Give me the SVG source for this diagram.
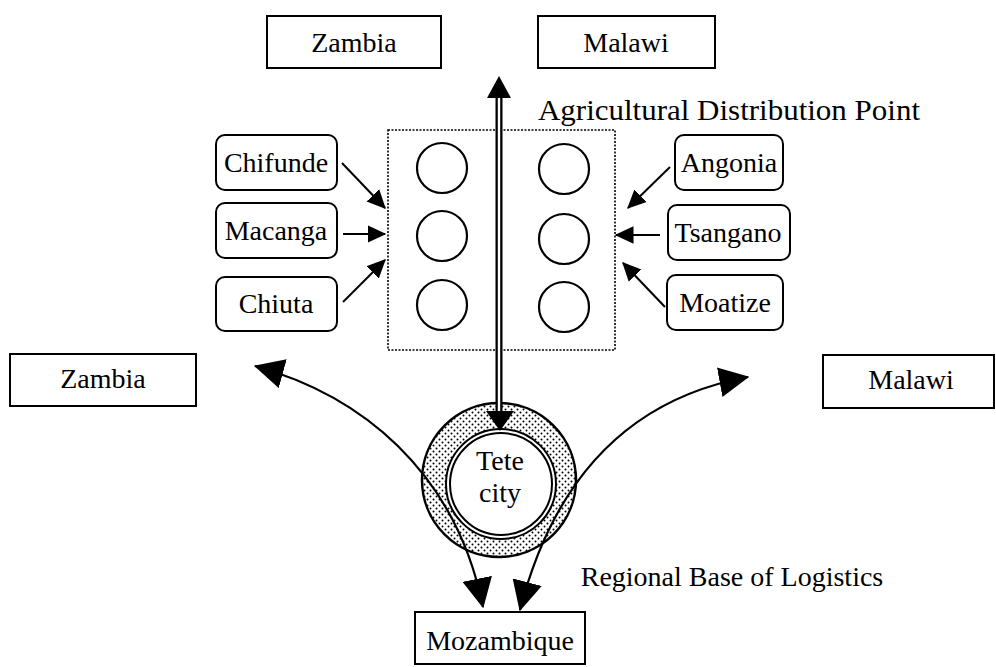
<svg xmlns="http://www.w3.org/2000/svg" width="996" height="667" viewBox="0 0 996 667">
<style>
text{font-family:"Liberation Serif","Times New Roman",serif;font-size:28px;fill:#000;text-anchor:middle}
.box{fill:#fff;stroke:#000;stroke-width:2}
.rbox{fill:#fff;stroke:#000;stroke-width:2}
.c{fill:#fff;stroke:#000;stroke-width:2.2}
.arr{fill:none;stroke:#000;stroke-width:2}
.curve{fill:none;stroke:#000;stroke-width:2.2}
</style>
<defs>
<marker id="sm" markerUnits="userSpaceOnUse" markerWidth="20" markerHeight="20" refX="14" refY="7" orient="auto" viewBox="0 0 16 14">
<path d="M0,0 L15,7 L0,14 z" fill="#000"/>
</marker>
<marker id="big" markerUnits="userSpaceOnUse" markerWidth="30" markerHeight="30" refX="23" refY="12" orient="auto-start-reverse" viewBox="0 0 24 24">
<path d="M0,0 L24,12 L0,24 z" fill="#000"/>
</marker>
<pattern id="dots" width="6" height="6" patternUnits="userSpaceOnUse">
<rect width="6" height="6" fill="#fff"/>
<circle cx="1.5" cy="1.5" r="1" fill="#000"/>
<circle cx="4.5" cy="4.5" r="1" fill="#000"/>
</pattern>
</defs>

<g id="zambia-top"><rect class="box" x="267" y="16" width="174" height="52"/><text x="354" y="52">Zambia</text></g>
<g id="malawi-top"><rect class="box" x="538" y="16" width="177" height="52"/><text x="626" y="52">Malawi</text></g>
<g id="zambia-left"><rect class="box" x="10" y="354" width="186" height="52"/><text x="103" y="388">Zambia</text></g>
<g id="malawi-right"><rect class="box" x="823" y="355" width="171" height="53"/><text x="911" y="389">Malawi</text></g>
<g id="mozambique"><rect class="box" x="415" y="612" width="170" height="52"/><text x="500" y="650">Mozambique</text></g>

<g id="adp">
<rect x="388" y="130" width="227" height="220" fill="none" stroke="#000" stroke-width="1.6" stroke-dasharray="2,1.5"/>
<circle class="c" cx="442" cy="168" r="25"/>
<circle class="c" cx="442" cy="236" r="25"/>
<circle class="c" cx="442" cy="305" r="25"/>
<circle class="c" cx="564" cy="169" r="25"/>
<circle class="c" cx="564" cy="239" r="25"/>
<circle class="c" cx="564" cy="307" r="25"/>
<text x="729" y="120" style="font-size:29px" textLength="382" lengthAdjust="spacingAndGlyphs">Agricultural Distribution Point</text>
</g>

<g id="chifunde"><rect class="rbox" x="216" y="135" width="121" height="55" rx="9"/><text x="276" y="172">Chifunde</text></g>
<g id="macanga"><rect class="rbox" x="216" y="203" width="121" height="55" rx="9"/><text x="276" y="240">Macanga</text></g>
<g id="chiuta"><rect class="rbox" x="216" y="277" width="121" height="54" rx="9"/><text x="276" y="313">Chiuta</text></g>
<g id="angonia"><rect class="rbox" x="675" y="135" width="108" height="55" rx="9"/><text x="729" y="172">Angonia</text></g>
<g id="tsangano"><rect class="rbox" x="668" y="205" width="122" height="55" rx="9"/><text x="728" y="242">Tsangano</text></g>
<g id="moatize"><rect class="rbox" x="667" y="275" width="116" height="55" rx="9"/><text x="725" y="312">Moatize</text></g>

<g id="tete">
<circle cx="499" cy="480" r="77" fill="url(#dots)" stroke="#000" stroke-width="2.5"/>
<circle cx="501" cy="484" r="55" fill="#fff" stroke="#000" stroke-width="2"/>
<circle cx="501" cy="484" r="51" fill="none" stroke="#000" stroke-width="2"/>
<text x="500" y="470">Tete</text>
<text x="500" y="502">city</text>
<text x="732" y="586">Regional Base of Logistics</text>
</g>

<g id="connectors">
<line x1="342" y1="163" x2="385" y2="208" class="arr" marker-end="url(#sm)"/>
<line x1="343" y1="234" x2="385" y2="234" class="arr" marker-end="url(#sm)"/>
<line x1="343" y1="302" x2="385" y2="260" class="arr" marker-end="url(#sm)"/>
<line x1="670" y1="167" x2="628" y2="208" class="arr" marker-end="url(#sm)"/>
<line x1="660" y1="235" x2="616" y2="235" class="arr" marker-end="url(#sm)"/>
<line x1="665" y1="307" x2="623" y2="263" class="arr" marker-end="url(#sm)"/>
<line x1="499" y1="96" x2="499" y2="414" stroke="#000" stroke-width="7"/>
<line x1="499" y1="96" x2="499" y2="412" stroke="#fff" stroke-width="2.4"/>
<path d="M487,98 L499,76 L511,98 z" fill="#000"/>
<path d="M486,411 L514,411 L500,431 z" fill="#000"/>
<path class="curve" d="M255,366 C360,395 455,470 483,607" marker-start="url(#big)" marker-end="url(#big)"/>
<path class="curve" d="M748,377 C650,395 560,455 520,610" marker-start="url(#big)" marker-end="url(#big)"/>
</g>
</svg>
